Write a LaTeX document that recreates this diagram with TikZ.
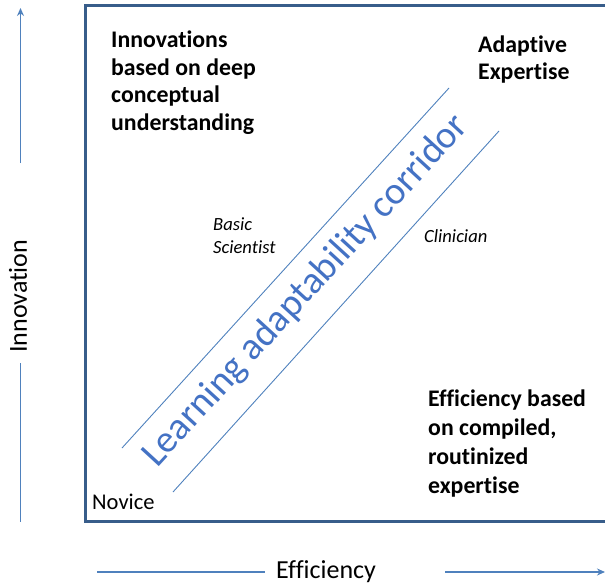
\documentclass[tikz,border=0pt]{standalone}
\usepackage{fontspec}
\setmainfont{Carlito}[Ligatures=NoCommon]
\usetikzlibrary{arrows.meta}
\definecolor{frameblue}{HTML}{385D8A}
\definecolor{axisblue}{HTML}{4F81BD}
\definecolor{corridorblue}{HTML}{4472C4}
\begin{document}
\begin{tikzpicture}[x=1pt,y=-1pt,
  frame/.style={draw=frameblue,line width=3pt},
  axis/.style={draw=axisblue,line width=1.6pt},
  axisarrow/.style={axis,-{Stealth[length=8pt,width=7pt]}},
  corridor/.style={draw=axisblue,line width=0.9pt},
  quadrant/.style={inner sep=0pt,align=left,font=\fontsize{23.8}{27.5}\selectfont\bfseries},
  role/.style={inner sep=0pt,align=left,font=\fontsize{18.6}{23}\selectfont\itshape},
  axislabel/.style={inner sep=0pt,font=\fontsize{26}{30}\selectfont},
]
\useasboundingbox (0,0) rectangle (605,583);

% outer frame (its right side runs past the page edge)
\coordinate (ftr) at (608,6);
\coordinate (ftl) at (85,6);
\coordinate (fbl) at (85,521);
\coordinate (fbr) at (608,521);
\draw[frame] (ftr) -- (ftl) -- (fbl) -- (fbr);

% quadrant descriptions (base anchor sits on the last line)
\node[quadrant,anchor=base west] (innovq) at (111,130.5) {Innovations\\based on deep\\conceptual\\understanding};
\node[quadrant,anchor=base west] (adaptq) at (478,80) {Adaptive\\Expertise};
\node[quadrant,font=\fontsize{23.8}{28.7}\selectfont\bfseries,anchor=base west] (efficq) at (428,493) {Efficiency based\\on compiled,\\routinized\\expertise};

% roles on either side of the corridor
\node[role,anchor=base west] (sci) at (213,253) {Basic\\Scientist};
\node[role,anchor=base west] (clin) at (424,242) {Clinician};
\node[axislabel,font=\fontsize{22.5}{26}\selectfont,anchor=base west] (novice) at (92,509) {Novice};

% corridor borders and title
\coordinate (cu1) at (122,448);
\coordinate (cu2) at (449,88);
\coordinate (cl1) at (173,492);
\coordinate (cl2) at (499,131);
\draw[corridor] (cu1) -- (cu2);
\draw[corridor] (cl1) -- (cl2);
\node[inner sep=0pt,text=corridorblue,font=\fontsize{38.5}{40}\selectfont,rotate=47.5] (corr) at (306,291) {Learning adaptability corridor};

% vertical axis
\node[axislabel,anchor=base west,rotate=90] (innovy) at (27,353) {Innovation};
\coordinate (vtop) at (20.5,8);
\coordinate (vup) at (20.5,163);
\coordinate (vlo1) at (20.5,363);
\coordinate (vlo2) at (20.5,522);
\draw[axisarrow] (vup) -- (vtop);
\draw[axis] (vlo1) -- (vlo2);

% horizontal axis
\node[axislabel,anchor=base west] (effx) at (276,578) {Efficiency};
\coordinate (hl1) at (97,572);
\coordinate (hl2) at (265,572);
\coordinate (hr1) at (445,572);
\coordinate (hr2) at (605,572);
\draw[axis] (hl1) -- (hl2);
\draw[axisarrow] (hr1) -- (hr2);
\end{tikzpicture}
\end{document}
